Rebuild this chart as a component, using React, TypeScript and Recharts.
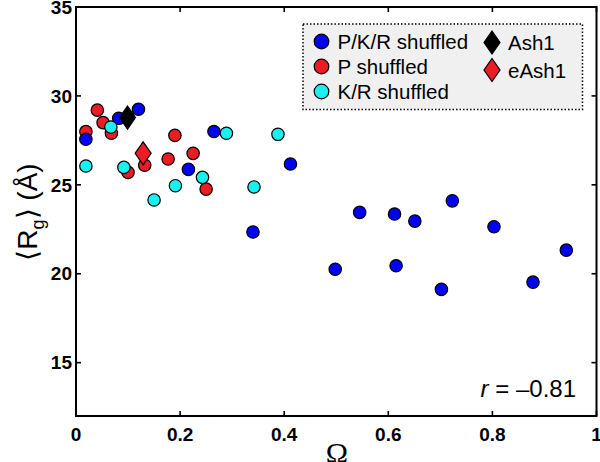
import React from 'react';
import { ScatterChart, Scatter, XAxis, YAxis } from 'recharts';

// P/K/R shuffled (blue)
const pkrOmega = [0.019, 0.082, 0.12, 0.216, 0.265, 0.34, 0.412, 0.498, 0.545, 0.612, 0.615, 0.651, 0.702, 0.723, 0.803, 0.878, 0.942];
const pkrRg = [27.56, 28.74, 29.25, 25.87, 28.0, 22.35, 26.17, 20.25, 23.45, 23.36, 20.45, 22.96, 19.12, 24.1, 22.64, 19.53, 21.33];
// P shuffled (red)
const pOmega = [0.019, 0.041, 0.052, 0.068, 0.1, 0.132, 0.177, 0.19, 0.225, 0.25];
const pRg = [27.99, 29.2, 28.5, 27.9, 25.7, 26.1, 26.45, 27.78, 26.77, 24.76];
// K/R shuffled (cyan)
const krOmega = [0.019, 0.067, 0.092, 0.15, 0.191, 0.243, 0.289, 0.342, 0.388];
const krRg = [26.06, 28.25, 25.98, 24.15, 24.95, 25.42, 27.9, 24.88, 27.84];
// Ash1 / eAsh1
const ash1Omega = [0.099];
const ash1Rg = [28.78];
const eash1Omega = [0.129];
const eash1Rg = [26.77];

const xTicks = [0, 0.2, 0.4, 0.6, 0.8, 1];
const yTicks = [15, 20, 25, 30, 35];
const xDomain = [0, 1];
const yDomain = [12, 35];

const zip = (xs: number[], ys: number[]) => xs.map((x, i) => ({ x, y: ys[i] }));

const BLUE = '#0000f5';
const RED = '#ec1c24';
const CYAN = '#19f0f0';

// layout constants
const MARGIN = { top: 7, right: 3.5, bottom: 16, left: 16 };
const CHART_W = 600;
const CHART_H = 462;
const Y_AXIS_W = 60;
const X_AXIS_H = 30;
const PLOT_LEFT = MARGIN.left + Y_AXIS_W;
const PLOT_RIGHT = CHART_W - MARGIN.right;
const PLOT_TOP = MARGIN.top;
const PLOT_BOTTOM = CHART_H - MARGIN.bottom - X_AXIS_H;
const TICK_LEN = 5;

// axis-frame helpers (decoration only, same linear mapping as the chart axes)
const fx = (v: number) => PLOT_LEFT + ((v - xDomain[0]) / (xDomain[1] - xDomain[0])) * (PLOT_RIGHT - PLOT_LEFT);
const fy = (v: number) => PLOT_BOTTOM - ((v - yDomain[0]) / (yDomain[1] - yDomain[0])) * (PLOT_BOTTOM - PLOT_TOP);

const circleShape = (fill: string) => (props: any) => (
  <circle cx={props.cx} cy={props.cy} r={6.2} fill={fill} stroke="#000" strokeWidth={1.2} />
);
const diamondShape = (fill: string) => (props: any) => {
  const { cx, cy } = props;
  return (
    <polygon
      points={`${cx},${cy - 11.5} ${cx + 8},${cy} ${cx},${cy + 11.5} ${cx - 8},${cy}`}
      fill={fill}
      stroke="#000"
      strokeWidth={1.2}
    />
  );
};

const FONT = '"Liberation Sans", Arial, Helvetica, sans-serif';

const XTick = (props: any) => {
  const { x, y, payload } = props;
  return (
    <text x={x} y={y} dy="0.71em" textAnchor="middle" fontSize={19} fontWeight="bold" fontFamily={FONT} fill="#000">
      {String(payload.value)}
    </text>
  );
};

const YTick = (props: any) => {
  const { x, y, payload } = props;
  return (
    <text x={x} y={y} dy="0.355em" textAnchor="end" fontSize={19} fontWeight="bold" fontFamily={FONT} fill="#000">
      {String(payload.value)}
    </text>
  );
};

const legendItems = [
  { label: 'P/K/R shuffled', color: BLUE, kind: 'circle', col: 0, row: 0 },
  { label: 'P shuffled', color: RED, kind: 'circle', col: 0, row: 1 },
  { label: 'K/R shuffled', color: CYAN, kind: 'circle', col: 0, row: 2 },
  { label: 'Ash1', color: '#000', kind: 'diamond', col: 1, row: 0 },
  { label: 'eAsh1', color: RED, kind: 'diamond', col: 1, row: 1 },
];

const LEG_X = 303;
const LEG_Y = 24;

const LegendBox = () => (
  <g transform={`translate(${LEG_X},${LEG_Y})`}>
    <rect x={0} y={0} width={279.5} height={85.5} fill="#f0f0f0" stroke="#000" strokeWidth={1.5} strokeDasharray="1.5 2" />
    {legendItems.map((it) => {
      const cx = it.col === 0 ? 18.5 : 189;
      const cy = it.col === 0 ? 17.5 + it.row * 25 : 18.5 + it.row * 27.5;
      return (
        <g key={it.label}>
          {it.kind === 'circle' ? (
            <circle cx={cx} cy={cy} r={7.3} fill={it.color} stroke="#000" strokeWidth={1.2} />
          ) : (
            <polygon
              points={`${cx},${cy - 11.5} ${cx + 8},${cy} ${cx},${cy + 11.5} ${cx - 8},${cy}`}
              fill={it.color}
              stroke="#000"
              strokeWidth={1.2}
            />
          )}
          <text x={cx + 16} y={cy + 7.5} fontSize={20.5} fontFamily={FONT} fill="#000">
            {it.label}
          </text>
        </g>
      );
    })}
  </g>
);

const Frame = () => (
  <g>
    <rect
      x={PLOT_LEFT}
      y={PLOT_TOP}
      width={PLOT_RIGHT - PLOT_LEFT}
      height={PLOT_BOTTOM - PLOT_TOP}
      fill="none"
      stroke="#000"
      strokeWidth={2}
    />
    {xTicks.map((v) => (
      <g key={`xt${v}`}>
        <line x1={fx(v)} x2={fx(v)} y1={PLOT_BOTTOM} y2={PLOT_BOTTOM - TICK_LEN} stroke="#000" strokeWidth={1.6} />
        <line x1={fx(v)} x2={fx(v)} y1={PLOT_TOP} y2={PLOT_TOP + TICK_LEN} stroke="#000" strokeWidth={1.6} />
      </g>
    ))}
    {yTicks.map((v) => (
      <g key={`yt${v}`}>
        <line x1={PLOT_LEFT} x2={PLOT_LEFT + TICK_LEN} y1={fy(v)} y2={fy(v)} stroke="#000" strokeWidth={1.6} />
        <line x1={PLOT_RIGHT} x2={PLOT_RIGHT - TICK_LEN} y1={fy(v)} y2={fy(v)} stroke="#000" strokeWidth={1.6} />
      </g>
    ))}
  </g>
);

export default function App() {
  return (
    <div style={{ position: 'absolute', left: 0, top: 0, width: CHART_W, height: CHART_H, background: '#fff' }}>
      <ScatterChart width={CHART_W} height={CHART_H} margin={MARGIN}>
        <XAxis
          dataKey="x"
          type="number"
          domain={xDomain}
          ticks={xTicks}
          interval={0}
          height={X_AXIS_H}
          tickSize={0}
          tickMargin={12}
          axisLine={{ stroke: '#000', strokeWidth: 2 }}
          tickLine={false}
          tick={<XTick />}
        />
        <YAxis
          dataKey="y"
          type="number"
          domain={yDomain}
          ticks={yTicks}
          interval={0}
          width={Y_AXIS_W}
          tickSize={0}
          tickMargin={4}
          axisLine={{ stroke: '#000', strokeWidth: 2 }}
          tickLine={false}
          tick={<YTick />}
        />
        <Scatter name="P shuffled" data={zip(pOmega, pRg)} fill={RED} shape={circleShape(RED)} isAnimationActive={false} />
        <Scatter name="P/K/R shuffled" data={zip(pkrOmega, pkrRg)} fill={BLUE} shape={circleShape(BLUE)} isAnimationActive={false} />
        <Scatter name="K/R shuffled" data={zip(krOmega, krRg)} fill={CYAN} shape={circleShape(CYAN)} isAnimationActive={false} />
        <Scatter name="Ash1" data={zip(ash1Omega, ash1Rg)} fill="#000" shape={diamondShape('#000')} isAnimationActive={false} />
        <Scatter name="eAsh1" data={zip(eash1Omega, eash1Rg)} fill={RED} shape={diamondShape(RED)} isAnimationActive={false} />
      </ScatterChart>
      <svg width={CHART_W} height={CHART_H} style={{ position: 'absolute', left: 0, top: 0, pointerEvents: 'none' }}>
        <Frame />
        <LegendBox />
        <text transform="translate(37,212) rotate(-90)" textAnchor="middle" fontSize={28} fontFamily={FONT} fill="#000">
          {'\u27E8R'}
          <tspan fontSize={18} dy={7}>g</tspan>
          <tspan dy={-7}>{'\u27E9 (\u00C5)'}</tspan>
        </text>
        <text x={337} y={463} textAnchor="middle" fontSize={30} fontFamily='"Liberation Serif", "Times New Roman", serif' fill="#000">
          {'\u03A9'}
        </text>
        <text x={576} y={397} textAnchor="end" fontSize={24} fontFamily={FONT} fill="#000">
          <tspan fontStyle="italic">r</tspan>
          {' = \u20130.81'}
        </text>
      </svg>
    </div>
  );
}
